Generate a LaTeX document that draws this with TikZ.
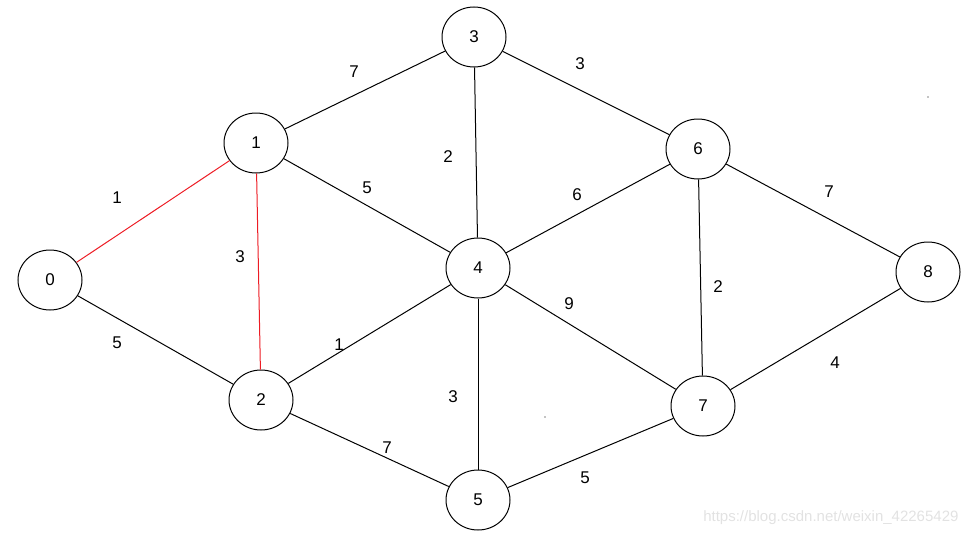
\documentclass[tikz,border=0pt]{standalone}
\usepackage{fontspec}
\setmainfont{Liberation Sans}
\usetikzlibrary{shapes.geometric}
\definecolor{pathRed}{HTML}{ED1C24}
\definecolor{markGray}{HTML}{E2E2E2}
\tikzset{
  vtx/.style ={draw=black,line width=1pt,ellipse,
               minimum width=64pt,minimum height=60pt,inner sep=0pt},
  wt/.style  ={inner sep=0pt},
  edge/.style={draw=black,line width=1pt},
  picked/.style={draw=pathRed,line width=1pt},
}
\begin{document}
\begin{tikzpicture}[x=1pt,y=-1pt,
          every node/.style={font=\fontsize{17pt}{20pt}\selectfont,
                             text=black,align=center},
        ]
        \useasboundingbox (0,0) rectangle (971,535);
        % vertices
        \node[vtx] (v0) at ( 50,280) {0};
        \node[vtx] (v1) at (256,143) {1};
        \node[vtx] (v2) at (261,400) {2};
        \node[vtx] (v3) at (474, 37) {3};
        \node[vtx] (v4) at (478,268) {4};
        \node[vtx] (v5) at (478,500) {5};
        \node[vtx] (v6) at (698,149) {6};
        \node[vtx] (v7) at (703,406) {7};
        \node[vtx] (v8) at (928,272) {8};
        % edges already chosen
        \draw[picked] (v0) -- (v1);
        \draw[picked] (v1) -- (v2);
        \node[wt] (w01) at (117,198) {1};
        \node[wt] (w12) at (240,257) {3};
        % remaining edges with weights
        \foreach \a/\b/\w/\lx/\ly in {v0/v2/5/117/343, v1/v3/7/354/72,
            v1/v4/5/367/188, v3/v4/2/448/157, v3/v6/3/580/64,
            v4/v6/6/577/195, v6/v8/7/829/192, v2/v4/1/339/345,
            v4/v7/9/569/304, v6/v7/2/718/287, v4/v5/3/453/397,
            v2/v5/7/387/448, v5/v7/5/585/478, v7/v8/4/835/363}{
          \draw[edge] (\a) -- (\b);
          \node[wt] (w\a\b) at (\lx,\ly) {\w};
        }
        % stray specks
        \fill (928,97) circle (0.7pt);
        \fill (545,417) circle (0.7pt);
        \node[anchor=base east,text=markGray,
              font=\fontsize{15pt}{18pt}\selectfont] (mark) at (962,521)
              {https://blog.csdn.net/weixin\_42265429};
      \end{tikzpicture}
\end{document}
